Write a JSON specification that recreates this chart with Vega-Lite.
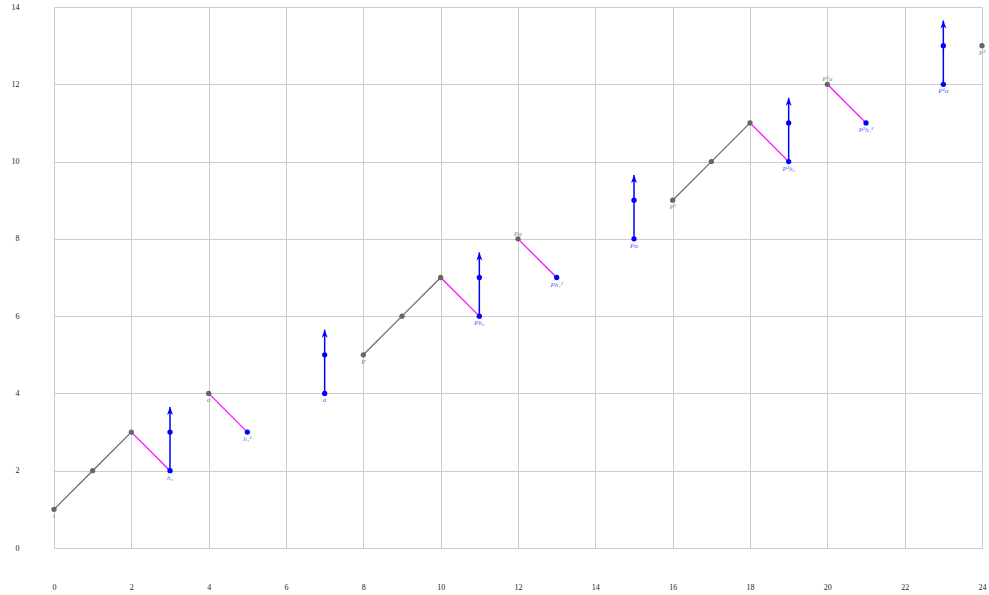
{
  "$schema": "https://vega.github.io/schema/vega-lite/v6.json",
  "width": 928,
  "height": 541,
  "autosize": {"type": "none"},
  "padding": {"left": 54, "top": 7, "right": 7, "bottom": 47},
  "background": "white",
  "config": {
    "view": {"stroke": null},
    "axis": {
      "grid": true,
      "gridColor": "#cccccc",
      "gridWidth": 1,
      "domain": false,
      "ticks": false,
      "labelFont": "Liberation Serif",
      "labelFontSize": 8,
      "labelColor": "#222222",
      "labelPadding": 35,
      "labelFlush": false,
      "labelOverlap": false,
      "title": null
    }
  },
  "datasets": {
    "classes": [
      {"x": 0, "y": 1, "label": "1", "chain": "a"},
      {"x": 1, "y": 2, "label": "", "chain": "a"},
      {"x": 2, "y": 3, "label": "", "chain": "a"},
      {"x": 4, "y": 4, "label": "α", "chain": ""},
      {"x": 8, "y": 5, "label": "P", "chain": "b"},
      {"x": 9, "y": 6, "label": "", "chain": "b"},
      {"x": 10, "y": 7, "label": "", "chain": "b"},
      {"x": 12, "y": 8, "label": "Pα", "chain": ""},
      {"x": 16, "y": 9, "label": "P²", "chain": "c"},
      {"x": 17, "y": 10, "label": "", "chain": "c"},
      {"x": 18, "y": 11, "label": "", "chain": "c"},
      {"x": 20, "y": 12, "label": "P²α", "chain": ""},
      {"x": 24, "y": 13, "label": "P³", "chain": ""}
    ],
    "differentials": [
      {"x": 2, "y": 3, "x2": 3, "y2": 2},
      {"x": 4, "y": 4, "x2": 5, "y2": 3},
      {"x": 10, "y": 7, "x2": 11, "y2": 6},
      {"x": 12, "y": 8, "x2": 13, "y2": 7},
      {"x": 18, "y": 11, "x2": 19, "y2": 10},
      {"x": 20, "y": 12, "x2": 21, "y2": 11}
    ],
    "towers": [
      {"x": 3, "y": 2, "tip": 3.65},
      {"x": 7, "y": 4, "tip": 5.65},
      {"x": 11, "y": 6, "tip": 7.65},
      {"x": 15, "y": 8, "tip": 9.65},
      {"x": 19, "y": 10, "tip": 11.65},
      {"x": 23, "y": 12, "tip": 13.65}
    ],
    "generators": [
      {"x": 3, "y": 2, "label": "h₀"},
      {"x": 3, "y": 3, "label": ""},
      {"x": 5, "y": 3, "label": "h₁²"},
      {"x": 7, "y": 4, "label": "α"},
      {"x": 7, "y": 5, "label": ""},
      {"x": 11, "y": 6, "label": "Ph₀"},
      {"x": 11, "y": 7, "label": ""},
      {"x": 13, "y": 7, "label": "Ph₁²"},
      {"x": 15, "y": 8, "label": "Pα"},
      {"x": 15, "y": 9, "label": ""},
      {"x": 19, "y": 10, "label": "P²h₀"},
      {"x": 19, "y": 11, "label": ""},
      {"x": 21, "y": 11, "label": "P²h₁²"},
      {"x": 23, "y": 12, "label": "P²α"},
      {"x": 23, "y": 13, "label": ""}
    ]
  },
  "encoding": {
    "x": {
      "field": "x", "type": "quantitative",
      "scale": {"domain": [0, 24], "nice": false, "zero": false},
      "axis": {"values": [0, 2, 4, 6, 8, 10, 12, 14, 16, 18, 20, 22, 24]}
    },
    "y": {
      "field": "y", "type": "quantitative",
      "scale": {"domain": [0, 14], "nice": false, "zero": false},
      "axis": {"values": [0, 2, 4, 6, 8, 10, 12, 14], "labelAlign": "right", "labelBaseline": "middle"}
    }
  },
  "layer": [
    {
      "data": {"name": "classes"},
      "transform": [{"filter": "datum.chain != ''"}],
      "mark": {"type": "line", "color": "#666666", "strokeWidth": 1.2},
      "encoding": {"detail": {"field": "chain"}, "order": {"field": "x"}}
    },
    {
      "data": {"name": "differentials"},
      "mark": {"type": "rule", "color": "#ff00ff", "strokeWidth": 1.2},
      "encoding": {"x2": {"field": "x2"}, "y2": {"field": "y2"}}
    },
    {
      "data": {"name": "towers"},
      "mark": {"type": "rule", "color": "#0000ff", "strokeWidth": 1.5},
      "encoding": {"y2": {"field": "tip"}}
    },
    {
      "data": {"name": "towers"},
      "mark": {"type": "point", "filled": true, "opacity": 1, "color": "#0000ff", "size": 64,
               "shape": "M0,0 L0.75,2 L0,1.45 L-0.75,2 Z"},
      "encoding": {"y": {"field": "tip", "type": "quantitative"}}
    },
    {
      "data": {"name": "classes"},
      "mark": {"type": "circle", "color": "#666666", "opacity": 1, "size": 28}
    },
    {
      "data": {"name": "generators"},
      "mark": {"type": "circle", "color": "#0000ff", "opacity": 1, "size": 28}
    },
    {
      "data": {"name": "classes"},
      "transform": [{"filter": "datum.label != '' && datum.label != 'Pα' && datum.label != 'P²α'"}],
      "mark": {"type": "text", "font": "Liberation Serif", "fontStyle": "italic", "fontSize": 7,
               "color": "#888888", "baseline": "top", "dy": 3},
      "encoding": {"text": {"field": "label"}}
    },
    {
      "data": {"name": "classes"},
      "transform": [{"filter": "datum.label == 'Pα' || datum.label == 'P²α'"}],
      "mark": {"type": "text", "font": "Liberation Serif", "fontStyle": "italic", "fontSize": 7,
               "color": "#888888", "baseline": "bottom", "dy": -2},
      "encoding": {"text": {"field": "label"}}
    },
    {
      "data": {"name": "generators"},
      "transform": [{"filter": "datum.label != ''"}],
      "mark": {"type": "text", "font": "Liberation Serif", "fontStyle": "italic", "fontSize": 7,
               "color": "#5a5aff", "baseline": "top", "dy": 3},
      "encoding": {"text": {"field": "label"}}
    }
  ]
}
